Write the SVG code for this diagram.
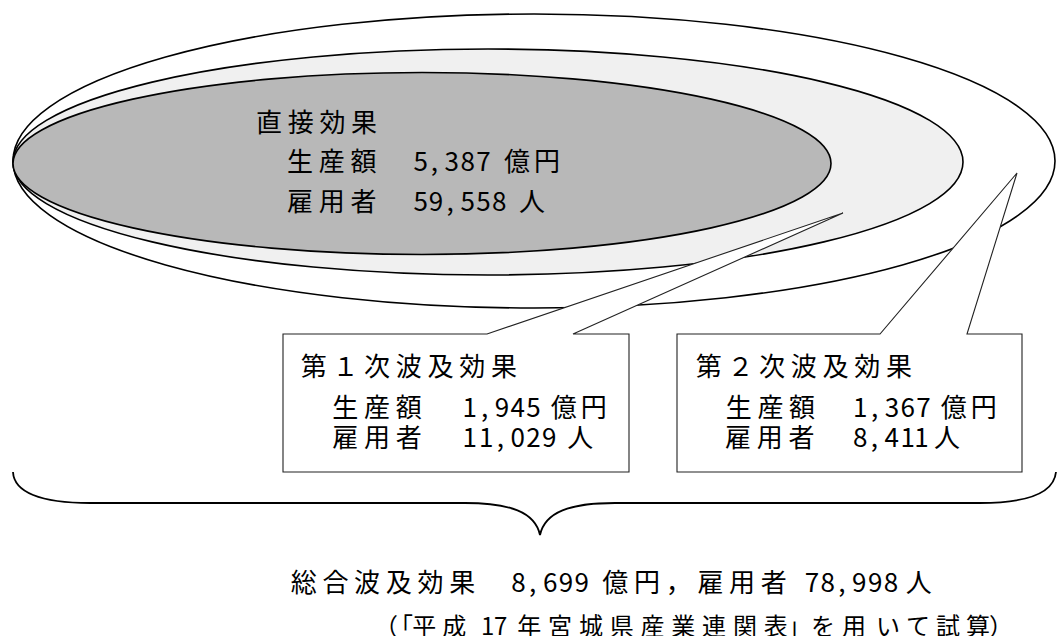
<svg xmlns="http://www.w3.org/2000/svg" width="1058" height="636" viewBox="0 0 1058 636">
<style>
.ell{stroke:#000;stroke-width:1.6}
.box{fill:#fff;stroke:#222;stroke-width:1.1;stroke-linejoin:miter}
.brace{fill:none;stroke:#000;stroke-width:1.8}
text{font-family:"Noto Sans CJK JP","Noto Sans",sans-serif;fill:#000}
.t{font-size:26px}
.s{font-size:24px}
</style>
<rect width="1058" height="636" fill="#fff"/>
<g id="outer-ellipse"><ellipse class="ell" cx="534" cy="161" rx="521" ry="147" fill="#fff"/></g>
<g id="mid-ellipse"><ellipse class="ell" cx="488" cy="162" rx="475" ry="113" fill="#f0f0f0"/></g>
<g id="direct-effect">
<ellipse class="ell" cx="422" cy="163.5" rx="409" ry="91" fill="#b8b8b8"/>
<text class="t" x="256 287.7 319.4 351.1" y="132">直接効果</text>
<text class="t" x="287 318.7 350.4" y="171">生産額</text>
<text class="t" x="413.5 430.8 444.6 460.4 476.2" y="171">5,387</text>
<text class="t" x="504 534" y="171">億円</text>
<text class="t" x="287 318.7 350.4" y="211">雇用者</text>
<text class="t" x="413.5 428.8 446.6 460.4 476.2 492" y="211">59,558</text>
<text class="t" x="519" y="211">人</text>
</g>
<g id="first-effect">
<path class="box" d="M283,334 H487 L843,213 L573,334 H629 V472 H283 Z"/>
<text class="t" x="300.7 332.4 364.1 395.8 427.5 459.2 490.9" y="375.5">第１次波及効果</text>
<text class="t" x="332.3 364 395.7" y="416.5">生産額</text>
<text class="t" x="462.5 480.9 494.7 510.5 526.3" y="416.5">1,945</text>
<text class="t" x="550.7 580.7" y="416.5">億円</text>
<text class="t" x="332.3 364 395.7" y="446.5">雇用者</text>
<text class="t" x="462.5 478.9 496.7 510.5 526.3 542.1" y="446.5">11,029</text>
<text class="t" x="567.3" y="446.5">人</text>
</g>
<g id="second-effect">
<path class="box" d="M677,334 H880 L1017,173 L967,334 H1022 V472 H677 Z"/>
<text class="t" x="695.7 727.4 759.1 790.8 822.5 854.2 885.9" y="375.5">第２次波及効果</text>
<text class="t" x="725.7 757.4 789.1" y="416.5">生産額</text>
<text class="t" x="853.1 870.9 884.7 900.5 916.3" y="416.5">1,367</text>
<text class="t" x="940.7 970.7" y="416.5">億円</text>
<text class="t" x="725 756.7 788.4" y="446.5">雇用者</text>
<text class="t" x="853 870.8 884.6 900.4 914.2" y="446.5">8,411</text>
<text class="t" x="934" y="446.5">人</text>
</g>
<g id="connectors">
<path class="brace" d="M13,472 C14,492 40,503 90,503 H465 C510,503 535,512 540,535 C545,512 570,503 615,503 H980 C1030,503 1054,492 1056,472"/>
</g>
<g id="total-effect">
<text class="t" x="290.7 322.4 354.1 385.8 417.5 449.2" y="591.5">総合波及効果</text>
<text class="t" x="511.3 529.1 542.9 558.7 574.5" y="591.5">8,699</text>
<text class="t" x="602.3 634 665.7 697.4 729.1 760.8" y="591.5">億円，雇用者</text>
<text class="t" x="804.7 820.5 838.3 852.1 867.9 883.7" y="591.5">78,998</text>
<text class="t" x="905.7" y="591.5">人</text>
</g>
<g id="source-note">
<text class="s" x="374 389" y="635">（「</text>
<text class="s" x="412.3 442.3" y="635">平成</text>
<text class="s" x="481 494" y="635">17</text>
<text class="s" x="517.3 548.1 578.9 609.7 640.5 671.3 702.1 732.9 763.7" y="635">年宮城県産業連関表</text>
<text class="s" x="787" y="635">」</text>
<text class="s" x="811 842 876 906 936 966" y="635">を用いて試算</text>
<text class="s" x="989" y="635">）</text>
</g>
</svg>
